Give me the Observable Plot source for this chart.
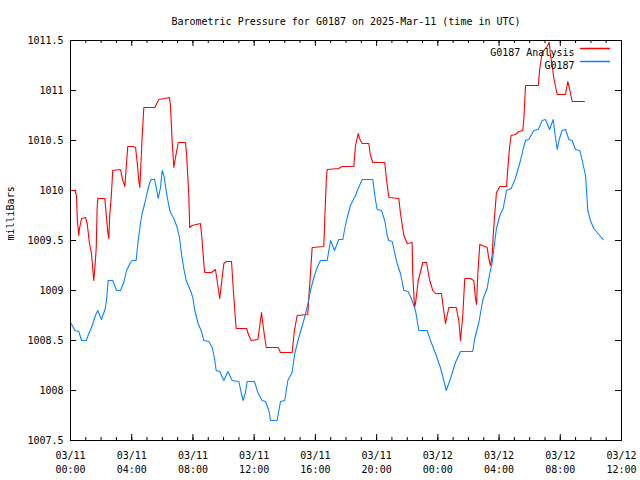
<!DOCTYPE html>
<html><head><meta charset="utf-8">
<script src="https://cdn.jsdelivr.net/npm/d3@7"></script>
<script src="https://cdn.jsdelivr.net/npm/@observablehq/plot@0.6"></script>
<style>body{margin:0;background:#fff}</style>
</head><body><div id="chart"></div>
<script>
const titleText = "Barometric Pressure for G0187 on 2025-Mar-11 (time in UTC)";
const yLabel = "milliBars";
const seriesNames = ["G0187 Analysis", "G0187"];
const seriesColors = ["#ff0000", "#0a84ff"];
const startUTC = Date.UTC(2025, 2, 11, 0, 0);
const xDomainHours = [0, 36];
const yDomain = [1007.5, 1011.5];
const majorTickHours = [0, 4, 8, 12, 16, 20, 24, 28, 32, 36];
const minorTickHours = d3.range(0, 37, 1);
const yTicks = [1007.5, 1008, 1008.5, 1009, 1009.5, 1010, 1010.5, 1011, 1011.5];

// G0187 Analysis (hours since 2025-03-11 00:00 UTC, mbar)
const analysisHours = [0,0.28,0.39,0.44,0.54,0.59,0.72,0.98,1.09,1.24,1.37,1.48,1.52,1.59,1.68,1.74,1.78,2.24,2.33,2.44,2.50,2.57,2.66,2.76,3.27,3.38,3.55,3.64,3.74,4.10,4.25,4.36,4.46,4.53,4.62,4.68,4.79,5.51,5.77,6.16,6.47,6.53,6.64,6.75,6.86,7.04,7.51,7.58,7.73,7.79,7.95,8.49,8.60,8.71,8.77,9.21,9.47,9.58,9.75,9.85,10.02,10.19,10.52,10.63,10.78,10.83,11.50,11.65,11.81,12.24,12.37,12.48,12.54,12.67,12.79,13.57,13.72,14.48,14.63,14.81,15.50,15.57,15.68,15.79,16.55,16.61,16.71,16.77,17.53,17.75,18.51,18.62,18.80,18.88,19.06,19.49,19.60,19.75,20.53,20.63,20.80,21.45,21.56,21.78,22.00,22.32,22.36,22.48,22.54,22.72,23.02,23.26,23.47,23.67,23.85,24.24,24.32,24.50,24.72,25.20,25.37,25.48,25.63,25.76,26.13,26.35,26.46,26.53,26.61,26.74,27.22,27.33,27.44,27.55,27.62,27.70,27.83,28.05,28.49,28.57,28.70,28.79,29.07,29.29,29.55,29.62,29.73,30.56,30.66,30.82,31.03,31.18,31.28,31.36,31.47,31.58,31.80,32.34,32.49,32.60,32.78,33.58];
const analysisValues = [1010.00,1010.00,1009.95,1009.72,1009.55,1009.62,1009.72,1009.73,1009.67,1009.47,1009.37,1009.17,1009.10,1009.22,1009.42,1009.82,1009.92,1009.92,1009.77,1009.58,1009.52,1009.77,1009.93,1010.20,1010.21,1010.12,1010.04,1010.23,1010.44,1010.44,1010.43,1010.28,1010.10,1010.03,1010.33,1010.53,1010.83,1010.83,1010.91,1010.92,1010.93,1010.85,1010.50,1010.23,1010.33,1010.48,1010.48,1010.37,1009.95,1009.63,1009.65,1009.67,1009.50,1009.27,1009.18,1009.18,1009.21,1009.10,1008.92,1009.05,1009.27,1009.29,1009.29,1009.03,1008.70,1008.62,1008.62,1008.55,1008.50,1008.51,1008.65,1008.78,1008.70,1008.55,1008.43,1008.43,1008.38,1008.38,1008.60,1008.75,1008.76,1008.93,1009.17,1009.43,1009.44,1009.70,1010.10,1010.21,1010.22,1010.24,1010.24,1010.45,1010.57,1010.52,1010.47,1010.47,1010.35,1010.28,1010.28,1010.13,1009.93,1009.92,1009.77,1009.55,1009.47,1009.48,1009.17,1008.83,1008.87,1009.10,1009.28,1009.28,1009.10,1009.00,1008.97,1008.97,1008.87,1008.67,1008.83,1008.83,1008.70,1008.50,1008.75,1009.12,1009.12,1009.10,1008.92,1008.86,1009.16,1009.46,1009.43,1009.32,1009.25,1009.35,1009.55,1009.73,1009.98,1010.04,1010.04,1010.22,1010.45,1010.55,1010.56,1010.59,1010.60,1010.72,1011.05,1011.05,1011.22,1011.38,1011.42,1011.45,1011.48,1011.35,1011.25,1011.12,1010.96,1010.96,1011.09,1011.02,1010.89,1010.89];

// G0187 observations
const stationHours = [0,0.22,0.28,0.54,0.72,1.03,1.20,1.42,1.63,1.78,1.91,2.03,2.11,2.24,2.35,2.46,2.76,2.89,3.01,3.27,3.48,3.66,3.92,4.03,4.29,4.42,4.57,4.68,4.85,5.01,5.18,5.27,5.49,5.60,5.73,5.88,5.99,6.10,6.25,6.42,6.53,6.75,6.97,7.12,7.25,7.40,7.56,7.84,7.99,8.12,8.34,8.56,8.71,9.04,9.26,9.41,9.52,9.75,10.02,10.28,10.56,11.00,11.15,11.28,11.43,11.54,12.02,12.24,12.52,12.74,12.96,13.07,13.50,13.72,14.00,14.20,14.48,14.65,14.92,15.24,15.46,15.68,15.90,16.12,16.33,16.77,16.99,17.25,17.53,17.79,17.92,18.08,18.29,18.62,18.77,19.06,19.75,19.93,20.04,20.32,20.53,20.69,20.80,21.02,21.19,21.34,21.56,21.78,22.06,22.32,22.54,22.76,23.30,23.52,23.85,24.17,24.39,24.55,24.83,25.15,25.48,26.28,26.41,26.68,26.96,27.22,27.39,27.55,27.66,27.83,28.05,28.27,28.49,28.79,29.07,29.40,29.58,29.73,29.94,30.27,30.56,30.82,31.03,31.30,31.54,31.64,31.80,31.95,32.12,32.34,32.56,32.78,32.99,33.28,33.43,33.65,33.80,33.97,34.19,34.52,34.80];
const stationValues = [1008.68,1008.62,1008.60,1008.59,1008.50,1008.50,1008.57,1008.65,1008.75,1008.80,1008.75,1008.71,1008.75,1008.80,1008.90,1009.10,1009.10,1009.05,1009.00,1009.00,1009.08,1009.20,1009.28,1009.30,1009.30,1009.50,1009.67,1009.77,1009.87,1009.98,1010.08,1010.11,1010.11,1010.03,1009.92,1010.03,1010.20,1010.15,1010.00,1009.85,1009.78,1009.72,1009.63,1009.53,1009.37,1009.22,1009.10,1009.00,1008.93,1008.80,1008.67,1008.59,1008.50,1008.49,1008.43,1008.32,1008.20,1008.19,1008.10,1008.19,1008.10,1008.09,1007.98,1007.90,1007.98,1008.09,1008.09,1007.98,1007.90,1007.89,1007.80,1007.70,1007.70,1007.89,1007.90,1008.10,1008.18,1008.37,1008.53,1008.70,1008.83,1009.00,1009.13,1009.23,1009.30,1009.30,1009.50,1009.40,1009.51,1009.51,1009.62,1009.73,1009.85,1009.95,1010.01,1010.11,1010.11,1009.90,1009.81,1009.80,1009.70,1009.55,1009.50,1009.49,1009.37,1009.27,1009.17,1009.00,1008.99,1008.90,1008.80,1008.60,1008.60,1008.50,1008.37,1008.23,1008.10,1008.00,1008.12,1008.28,1008.39,1008.39,1008.52,1008.68,1008.92,1009.02,1009.17,1009.28,1009.42,1009.62,1009.75,1009.82,1010.00,1010.02,1010.12,1010.30,1010.42,1010.50,1010.51,1010.60,1010.61,1010.70,1010.71,1010.61,1010.71,1010.58,1010.41,1010.52,1010.60,1010.61,1010.51,1010.50,1010.41,1010.40,1010.30,1010.15,1009.80,1009.70,1009.62,1009.56,1009.51];

const toDate = h => new Date(startUTC + h * 3600000);
const analysis = analysisHours.map((h, i) => ({date: toDate(h), value: analysisValues[i]}));
const station = stationHours.map((h, i) => ({date: toDate(h), value: stationValues[i]}));
const majorDates = majorTickHours.map(toDate);
const minorDates = minorTickHours.map(toDate);

const W = 640, H = 480, mL = 70, mR = 19, mT = 40, mB = 40;
const innerW = W - mL - mR, innerH = H - mT - mB;
const majorLen = 6, minorLen = 3;
const lineShape = {draw(context, l) { context.moveTo(0, 0); context.lineTo(0, -l); }};

const chart = Plot.plot({
  width: W, height: H,
  marginLeft: mL, marginRight: mR, marginTop: mT, marginBottom: mB,
  style: {fontFamily: "'DejaVu Sans Mono', monospace", fontSize: "10px", background: "white", color: "black"},
  x: {type: "utc", domain: xDomainHours.map(toDate)},
  y: {domain: yDomain},
  marks: [
    Plot.tickX(minorDates, {x: d => d, insetTop: innerH - minorLen, stroke: "black"}),
    Plot.tickX(minorDates, {x: d => d, insetBottom: innerH - minorLen, stroke: "black"}),
    Plot.tickX(majorDates, {x: d => d, insetTop: innerH - majorLen, stroke: "black"}),
    Plot.tickX(majorDates, {x: d => d, insetBottom: innerH - majorLen, stroke: "black"}),
    Plot.tickY(yTicks, {y: d => d, insetRight: innerW - majorLen, stroke: "black"}),
    Plot.tickY(yTicks, {y: d => d, insetLeft: innerW - majorLen, stroke: "black"}),
    Plot.axisX({ticks: majorDates, tickSize: 0, tickPadding: 9, tickFormat: d3.utcFormat("%m/%d\n%H:%M"), label: null, lineHeight: 1.4}),
    Plot.axisY({ticks: yTicks, tickSize: 0, tickPadding: 7, tickFormat: d => String(d), label: null}),
    Plot.line(analysis, {x: "date", y: "value", stroke: seriesColors[0], strokeWidth: 1.1}),
    Plot.line(station, {x: "date", y: "value", stroke: seriesColors[1], strokeWidth: 1.1}),
    Plot.frame({stroke: "black"}),
    Plot.text([titleText], {frameAnchor: "top", dy: -23, text: d => d}),
    Plot.text([yLabel], {frameAnchor: "left", dx: -60, rotate: -90, text: d => d}),
    Plot.text([seriesNames[0]], {frameAnchor: "top-right", dx: -47, dy: 8, textAnchor: "end", text: d => d}),
    Plot.text([seriesNames[1]], {frameAnchor: "top-right", dx: -47, dy: 21, textAnchor: "end", text: d => d}),
    Plot.vector([seriesNames[0]], {frameAnchor: "top-right", dx: -41, dy: 8, length: 29, rotate: 90, anchor: "start", stroke: seriesColors[0], shape: lineShape}),
    Plot.vector([seriesNames[1]], {frameAnchor: "top-right", dx: -41, dy: 21, length: 29, rotate: 90, anchor: "start", stroke: seriesColors[1], shape: lineShape})
  ]
});
document.getElementById("chart").append(chart);
</script>
</body></html>
